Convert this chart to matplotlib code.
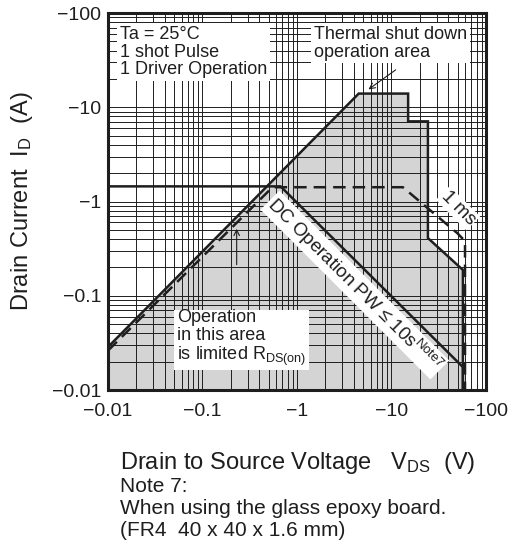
import matplotlib
matplotlib.use("Agg")
import matplotlib.pyplot as plt
from matplotlib.ticker import LogLocator, NullFormatter

plt.rcParams['font.family'] = ['Liberation Sans', 'DejaVu Sans']
plt.rcParams['mathtext.fontset'] = 'custom'
plt.rcParams['mathtext.rm'] = 'Liberation Sans'
plt.rcParams['mathtext.it'] = 'Liberation Sans:italic'

# safe operating area boundaries (magnitudes of V_DS and I_D)
outer_v = [0.01, 4.5, 15, 15, 24.3, 24.3, 57, 57]
outer_i = [0.0286, 14, 14, 7.1, 7.1, 0.41, 0.188, 0.01]

dc_v = [0.01, 0.67, 57, 57]
dc_i = [1.45, 1.45, 0.0175, 0.01]

ms1_v = [0.01, 0.55, 13.2, 50, 60, 60]
ms1_i = [0.0262, 1.42, 1.42, 0.46, 0.38, 0.01]

ticks = [0.01, 0.1, 1, 10, 100]
tick_labels = ['\u22120.01', '\u22120.1', '\u22121', '\u221210', '\u2212100']

fig = plt.figure(figsize=(5.17, 5.47), dpi=100)
ax = fig.add_axes([0.2089, 0.287, 0.7311, 0.689])
ax.set_xscale('log')
ax.set_yscale('log')
ax.set_xlim(0.01, 100)
ax.set_ylim(0.01, 100)

ax.fill(outer_v + [0.01], outer_i + [0.01], color='#d4d4d4', zorder=0.2, lw=0)
ax.plot(outer_v, outer_i, color='#1e1e1e', lw=1.8, zorder=3, solid_joinstyle='miter')
ax.plot(dc_v, dc_i, color='#1e1e1e', lw=1.8, zorder=3, solid_joinstyle='miter')
ax.plot(ms1_v, ms1_i, color='#1e1e1e', lw=1.8, ls=(0, (5, 2.8)), zorder=3)

ax.set_xticks(ticks)
ax.set_xticklabels(tick_labels)
ax.set_yticks(ticks)
ax.set_yticklabels(tick_labels)
for a in (ax.xaxis, ax.yaxis):
    a.set_minor_locator(LogLocator(base=10, subs=range(2, 10)))
    a.set_minor_formatter(NullFormatter())
ax.tick_params(which='both', length=0, labelsize=14, colors='#1e1e1e')
ax.tick_params(axis='x', pad=9)
ax.tick_params(axis='y', pad=5)
ax.set_axisbelow(True)
ax.grid(which='both', color='#1e1e1e', lw=0.7)
for s in ax.spines.values():
    s.set_linewidth(2.2)
    s.set_color('#1e1e1e')

box = dict(facecolor='white', edgecolor='none', pad=2)
ax.text(0.032, 0.966, 'Ta = 25\u00b0C\n1 shot Pulse\n1 Driver Operation',
        transform=ax.transAxes, ha='left', va='top', fontsize=13,
        linespacing=1.05, color='#1e1e1e', bbox=box, zorder=6)
ax.text(0.545, 0.966, 'Thermal shut down\noperation area',
        transform=ax.transAxes, ha='left', va='top', fontsize=13,
        linespacing=1.05, color='#1e1e1e', bbox=box, zorder=6)
ax.text(0.183, 0.215, 'Operation\nin this area\nis limited R$_{\\mathregular{DS(on)}}$',
        transform=ax.transAxes, ha='left', va='top', fontsize=13,
        linespacing=1.05, color='#1e1e1e', bbox=box, zorder=6)
ax.text(4.1, 0.13, 'DC Operation PW \u2264 10s$^{\\mathregular{Note7}}$',
        ha='center', va='center', rotation=-45, rotation_mode='anchor',
        fontsize=13.5, color='#1e1e1e', bbox=dict(facecolor='white', edgecolor='none', pad=1),
        zorder=6)
ax.text(50.6, 0.85, '1 ms', ha='center', va='center', rotation=-45,
        rotation_mode='anchor', fontsize=13.5, color='#1e1e1e',
        bbox=dict(facecolor='white', edgecolor='none', pad=1), zorder=6)

ax.annotate('', xy=(5.4, 14.9), xytext=(11.7, 26),
            arrowprops=dict(arrowstyle='->', color='#1e1e1e', lw=0.8), zorder=6)
ax.annotate('', xy=(0.23, 0.55), xytext=(0.23, 0.2),
            arrowprops=dict(arrowstyle='->', color='#1e1e1e', lw=0.8), zorder=6)

fig.text(0.043, 0.632, 'Drain Current  I$_{\\mathregular{D}}$  (A)', rotation=90,
         ha='center', va='center', fontsize=17, color='#1e1e1e')
fig.text(0.575, 0.153, 'Drain to Source Voltage   V$_{\\mathregular{DS}}$  (V)',
         ha='center', va='center', fontsize=17, color='#1e1e1e')
fig.text(0.232, 0.128, 'Note 7:\nWhen using the glass epoxy board.\n(FR4  40 x 40 x 1.6 mm)',
         ha='left', va='top', fontsize=15, linespacing=1.2, color='#1e1e1e')

fig.savefig('out.png', dpi=100)
